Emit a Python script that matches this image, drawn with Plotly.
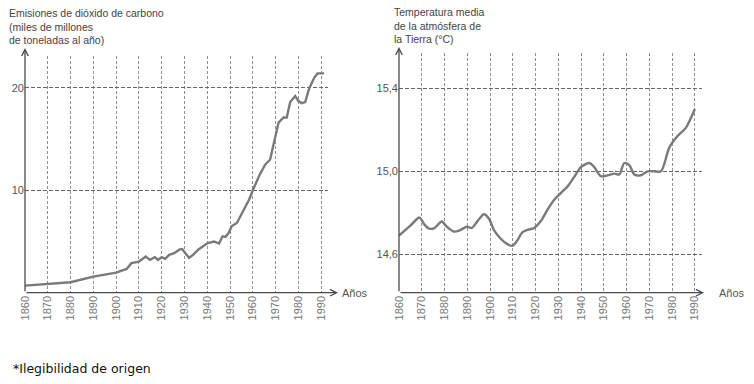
import plotly.graph_objects as go

# ---------------- data ----------------
co2_years = [1860, 1870, 1880, 1890, 1900, 1904.6, 1906.7, 1910, 1913, 1914.8, 1917, 1918.4,
             1920, 1921.5, 1923.3, 1925.5, 1927.7, 1929, 1930.6, 1932, 1933.8, 1936, 1938,
             1940.2, 1943, 1945.2, 1946.7, 1948, 1949.3, 1950.8, 1953, 1954.5, 1956.7,
             1958.4, 1960, 1963, 1965.4, 1967.6, 1971.3, 1973.5, 1974.9, 1976.4, 1978.6,
             1980, 1981.5, 1983, 1984.7, 1987, 1988.4, 1991.3]
co2_values = [0.69, 0.82, 1.02, 1.57, 1.96, 2.32, 2.88, 3.04, 3.53, 3.2, 3.47, 3.2,
              3.47, 3.3, 3.7, 3.85, 4.2, 4.25, 3.85, 3.4, 3.7, 4.2, 4.5,
              4.85, 5.0, 4.8, 5.5, 5.45, 5.8, 6.5, 6.8, 7.45, 8.3,
              9.1, 10.0, 11.5, 12.5, 13.0, 16.6, 17.1, 17.1, 18.6, 19.2,
              18.7, 18.5, 18.6, 19.9, 21.0, 21.4, 21.4]

temp_years = [1860, 1865, 1869, 1871, 1873, 1875.4, 1878.8, 1881, 1884, 1886.4, 1889.8, 1892,
              1894.5, 1897.4, 1899.6, 1901.8, 1904.7, 1907.6, 1909.9, 1912, 1914.3, 1916.5,
              1919.4, 1922.3, 1925.3, 1928.2, 1931.1, 1934, 1937, 1939.9, 1943.6, 1945.8,
              1948.7, 1951.6, 1954.6, 1956.8, 1959, 1961.2, 1963.4, 1966.3, 1969.2, 1972.2,
              1975.1, 1978.8, 1982.4, 1986, 1990]
temp_values = [14.69, 14.738, 14.777, 14.746, 14.725, 14.725, 14.758, 14.733, 14.71, 14.714,
               14.733, 14.727, 14.76, 14.793, 14.77, 14.715, 14.675, 14.649, 14.641, 14.667,
               14.707, 14.718, 14.727, 14.76, 14.816, 14.863, 14.895, 14.926, 14.973, 15.02,
               15.04, 15.02, 14.976, 14.98, 14.989, 14.985, 15.04, 15.03, 14.984, 14.981,
               15.0, 15.0, 15.0, 15.115, 15.17, 15.209, 15.30]

decade_ticks = [1860, 1870, 1880, 1890, 1900, 1910, 1920, 1930, 1940, 1950, 1960, 1970, 1980, 1990]
co2_ticks = [10, 20]
co2_ticktext = ["10", "20"]
temp_ticks = [14.6, 15.0, 15.4]
temp_ticktext = ["14,6", "15,0", "15,4"]

left_title = "Emisiones de dióxido de carbono<br>(miles de millones<br>de toneladas al año)"
right_title = "Temperatura media<br>de la atmósfera de<br>la Tierra (°C)"
x_label = "Años"
footnote = "*Ilegibilidad de origen"

# ---------------- layout helpers ----------------
W, H = 754, 384
def px(x):
    return x / W
def py(y):
    return (H - y) / H

LINE = "#7a7a7a"
AXIS = "#4a4a4a"
TXT = "#555555"
FONT = "Liberation Sans Narrow, Liberation Sans, Arial, sans-serif"

fig = go.Figure()
fig.add_trace(go.Scatter(x=co2_years, y=co2_values, mode="lines",
                         line=dict(color=LINE, width=2.4), xaxis="x", yaxis="y",
                         showlegend=False, hoverinfo="skip"))
fig.add_trace(go.Scatter(x=temp_years, y=temp_values, mode="lines",
                         line=dict(color=LINE, width=2.4, shape="spline", smoothing=0.8),
                         xaxis="x2", yaxis="y2", showlegend=False, hoverinfo="skip"))

xcommon = dict(range=[1860, 1993], tickvals=decade_ticks, ticktext=[str(t) for t in decade_ticks],
               tickangle=-90, showgrid=True, gridcolor="#8f8f8f", griddash="3px,2px", gridwidth=1,
               zeroline=False, showline=False, ticks="", automargin=False,
               tickfont=dict(family="Liberation Sans, Arial, sans-serif", size=11, color="#777"))
ycommon = dict(showgrid=True, gridcolor="#666", griddash="4px,2px", gridwidth=1,
               zeroline=False, showline=False, ticks="", automargin=False,
               tickfont=dict(family=FONT, size=11, color=TXT))

fig.update_layout(
    width=W, height=H, autosize=False,
    margin=dict(l=0, r=0, t=0, b=0, pad=0),
    paper_bgcolor="white", plot_bgcolor="white",
    xaxis=dict(domain=[px(25), px(328)], anchor="y", **xcommon),
    yaxis=dict(domain=[py(292.7), py(56)], range=[0, 23.1], tickvals=co2_ticks,
               ticktext=co2_ticktext, anchor="x", **ycommon),
    xaxis2=dict(domain=[px(399), px(701.7)], anchor="y2", **xcommon),
    yaxis2=dict(domain=[py(292.7), py(53)], range=[14.415, 15.57], tickvals=temp_ticks,
                ticktext=temp_ticktext, anchor="x2", **ycommon),
)

ann = []
# axes with arrows
for (x0, x1, yb, ytop) in [(25, 338, 292.7, 48), (399, 704, 292.7, 47)]:
    ann.append(dict(x=px(x1), y=py(yb), xref="paper", yref="paper", text="", showarrow=True,
                    ax=-(x1 - x0), ay=0, arrowhead=5, arrowsize=1, arrowwidth=1.3,
                    arrowcolor=AXIS))
    ann.append(dict(x=px(x0), y=py(ytop), xref="paper", yref="paper", text="", showarrow=True,
                    ax=0, ay=(yb - ytop), arrowhead=5, arrowsize=1, arrowwidth=1.3,
                    arrowcolor=AXIS))
# "Años" labels
for xl in [340, 717]:
    ann.append(dict(x=px(xl), y=py(293), xref="paper", yref="paper", text=x_label,
                    showarrow=False, xanchor="left", yanchor="middle",
                    font=dict(family=FONT, size=11, color=TXT)))
# titles
ann.append(dict(x=px(7), y=py(5), xref="paper", yref="paper", text=left_title, showarrow=False,
                xanchor="left", yanchor="top", align="left",
                font=dict(family=FONT, size=10.5, color="#444")))
ann.append(dict(x=px(392), y=py(4), xref="paper", yref="paper", text=right_title, showarrow=False,
                xanchor="left", yanchor="top", align="left",
                font=dict(family=FONT, size=10.5, color="#444")))
# footnote
ann.append(dict(x=px(11), y=py(368), xref="paper", yref="paper", text=footnote, showarrow=False,
                xanchor="left", yanchor="middle",
                font=dict(family="DejaVu Sans, Verdana, sans-serif", size=12.5, color="#111")))
fig.update_layout(annotations=ann)

fig.write_html("out.html", config={"displayModeBar": False, "staticPlot": True},
               post_script="document.body.style.margin='0';document.body.style.overflow='hidden';")
